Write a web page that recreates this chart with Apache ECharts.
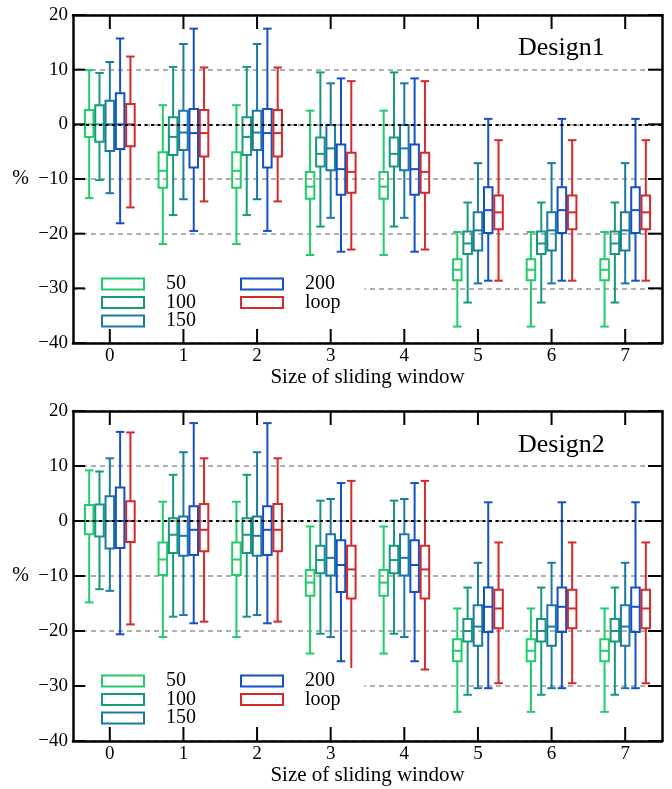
<!DOCTYPE html>
<html>
<head>
<meta charset="utf-8">
<script src="https://cdn.jsdelivr.net/npm/echarts@6/dist/echarts.min.js"></script>
<style>
  html, body { margin: 0; padding: 0; background: #fff; }
  #chart { width: 672px; height: 789px; }
</style>
</head>
<body>
<div id="chart"></div>
<script>
const categories = ['0', '1', '2', '3', '4', '5', '6', '7'];
const yTicks = [20, 10, 0, -10, -20, -30, -40];
const seriesNames = ['50', '100', '150', '200', 'loop'];
const colors = ['#22cc6a', '#17997c', '#1a7aa3', '#1450c8', '#d42a2a'];
const panelTitles = ['Design1', 'Design2'];

// each row: [min, q1, median, q3, max]
const design1_50 = [
  [-13.5, -2.3, 0, 2.6, 9.9],
  [-21.9, -11.6, -8.5, -5.1, 3.5],
  [-21.9, -11.6, -8.5, -5.1, 3.5],
  [-23.9, -13.6, -11.4, -8.7, 2.5],
  [-23.9, -13.6, -11.4, -8.7, 2.5],
  [-37.0, -28.5, -26.6, -24.7, -19.7],
  [-37.0, -28.5, -26.6, -24.7, -19.7],
  [-37.0, -28.5, -26.6, -24.7, -19.7]
];
const design1_100 = [
  [-10.2, -3.2, 0, 3.5, 9.4],
  [-16.6, -5.6, -2.3, 1.3, 10.5],
  [-16.6, -5.6, -2.3, 1.3, 10.5],
  [-18.7, -7.7, -5.4, -2.4, 9.5],
  [-18.7, -7.7, -5.4, -2.4, 9.5],
  [-32.6, -23.7, -21.8, -19.6, -14.3],
  [-32.6, -23.7, -21.8, -19.6, -14.3],
  [-32.6, -23.7, -21.8, -19.6, -14.3]
];
const design1_150 = [
  [-12.6, -4.9, 0, 4.3, 11.4],
  [-13.7, -4.7, -1.5, 2.5, 14.7],
  [-13.7, -4.7, -1.5, 2.5, 14.7],
  [-17.1, -8.4, -4.4, -0.1, 7.5],
  [-17.1, -8.4, -4.4, -0.1, 7.5],
  [-29.1, -23.1, -19.4, -16.1, -7.1],
  [-29.1, -23.1, -19.4, -16.1, -7.1],
  [-29.1, -23.1, -19.4, -16.1, -7.1]
];
const design1_200 = [
  [-18.1, -4.5, 0, 5.7, 15.7],
  [-19.5, -7.9, -1.6, 2.8, 17.5],
  [-19.5, -7.9, -1.6, 2.8, 17.5],
  [-23.3, -12.9, -8.2, -3.7, 8.4],
  [-23.3, -12.9, -8.2, -3.7, 8.4],
  [-28.6, -19.9, -15.7, -11.5, 1.0],
  [-28.6, -19.9, -15.7, -11.5, 1.0],
  [-28.6, -19.9, -15.7, -11.5, 1.0]
];
const design1_loop = [
  [-15.2, -4.0, 0, 3.7, 12.4],
  [-14.1, -5.9, -1.6, 2.6, 10.4],
  [-14.1, -5.9, -1.6, 2.6, 10.4],
  [-22.9, -12.5, -8.7, -5.2, 7.9],
  [-22.9, -12.5, -8.7, -5.2, 7.9],
  [-28.6, -19.2, -16.1, -13.0, -2.9],
  [-28.6, -19.2, -16.1, -13.0, -2.9],
  [-28.6, -19.2, -16.1, -13.0, -2.9]
];

const design2_50 = [
  [-14.8, -2.4, 0, 2.9, 9.2],
  [-21.1, -9.8, -7.0, -3.9, 3.5],
  [-21.1, -9.8, -7.0, -3.9, 3.5],
  [-24.1, -13.6, -11.2, -8.9, -1.0],
  [-24.1, -13.6, -11.2, -8.9, -1.0],
  [-34.7, -25.5, -23.6, -21.5, -15.9],
  [-34.7, -25.5, -23.6, -21.5, -15.9],
  [-34.7, -25.5, -23.6, -21.5, -15.9]
];
const design2_100 = [
  [-12.4, -2.8, 0, 3.0, 9.0],
  [-17.4, -5.8, -2.5, 0.5, 8.4],
  [-17.4, -5.8, -2.5, 0.5, 8.4],
  [-20.5, -9.5, -7.1, -4.5, 3.7],
  [-20.5, -9.5, -7.1, -4.5, 3.7],
  [-31.6, -21.9, -20.0, -17.8, -12.1],
  [-31.6, -21.9, -20.0, -17.8, -12.1],
  [-31.6, -21.9, -20.0, -17.8, -12.1]
];
const design2_150 = [
  [-12.7, -5.0, 0, 4.5, 11.4],
  [-17.1, -6.3, -2.7, 0.8, 12.5],
  [-17.1, -6.3, -2.7, 0.8, 12.5],
  [-21.1, -9.9, -6.7, -2.4, 4.0],
  [-21.1, -9.9, -6.7, -2.4, 4.0],
  [-30.4, -22.7, -19.2, -15.3, -7.6],
  [-30.4, -22.7, -19.2, -15.3, -7.6],
  [-30.4, -22.7, -19.2, -15.3, -7.6]
];
const design2_200 = [
  [-20.6, -4.9, 0, 6.1, 16.2],
  [-18.6, -6.2, -1.6, 2.7, 17.8],
  [-18.6, -6.2, -1.6, 2.7, 17.8],
  [-25.5, -12.9, -8.0, -3.5, 6.9],
  [-25.5, -12.9, -8.0, -3.5, 6.9],
  [-30.4, -20.2, -15.6, -12.1, 3.4],
  [-30.4, -20.2, -15.6, -12.1, 3.4],
  [-30.4, -20.2, -15.6, -12.1, 3.4]
];
const design2_loop = [
  [-18.8, -3.8, 0, 3.6, 16.1],
  [-18.3, -5.5, -1.6, 3.1, 11.4],
  [-18.3, -5.5, -1.6, 3.1, 11.4],
  [-27.0, -14.1, -8.8, -4.5, 7.3],
  [-27.0, -14.1, -8.8, -4.5, 7.3],
  [-29.5, -19.5, -15.9, -12.5, -3.9],
  [-29.5, -19.5, -15.9, -12.5, -3.9],
  [-29.5, -19.5, -15.9, -12.5, -3.9]
];

const panels = [
  [design1_50, design1_100, design1_150, design1_200, design1_loop],
  [design2_50, design2_100, design2_150, design2_200, design2_loop]
];

const FONT = 'Liberation Serif';
const grids = [
  { left: 73, right: 10, top: 15, height: 328 },
  { left: 73, right: 10, top: 411, height: 330 }
];

function yLabel(v) {
  return v < 0 ? '\u2212' + Math.abs(v) : String(v);
}

// box drawn through the axes; k = series slot inside a category
function boxItem(k) {
  return function (params, api) {
    const cat = api.value(0);
    const band = api.size([1, 0])[0];
    const x = api.coord([cat, 0])[0] + (k - 2) * band * 0.14;
    const hw = band * 0.058;
    const y = [1, 2, 3, 4, 5].map(i => api.coord([cat, api.value(i)])[1]);
    const st = { stroke: colors[k], lineWidth: 2, fill: 'transparent' };
    return {
      type: 'group',
      children: [
        { type: 'rect', shape: { x: x - hw, y: y[3], width: 2 * hw, height: y[1] - y[3] }, style: st },
        { type: 'line', shape: { x1: x - hw, y1: y[2], x2: x + hw, y2: y[2] }, style: st },
        { type: 'line', shape: { x1: x, y1: y[3], x2: x, y2: y[4] }, style: st },
        { type: 'line', shape: { x1: x, y1: y[1], x2: x, y2: y[0] }, style: st },
        { type: 'line', shape: { x1: x - hw, y1: y[4], x2: x + hw, y2: y[4] }, style: st },
        { type: 'line', shape: { x1: x - hw, y1: y[0], x2: x + hw, y2: y[0] }, style: st }
      ]
    };
  };
}

// inward frame ticks (axisTick.inside is not honoured here, so draw them on the frame)
const tickStyle = { stroke: '#000', lineWidth: 2 };
function xTickItem(params, api) {
  const cs = params.coordSys;
  const x = api.coord([api.value(0), 0])[0];
  const b = cs.y + cs.height;
  return {
    type: 'group',
    children: [
      { type: 'line', shape: { x1: x, y1: b, x2: x, y2: b - 14 }, style: tickStyle },
      { type: 'line', shape: { x1: x, y1: cs.y, x2: x, y2: cs.y + 14 }, style: tickStyle }
    ]
  };
}
function yTickItem(params, api) {
  const cs = params.coordSys;
  const y = api.coord([0, api.value(1)])[1];
  const r = cs.x + cs.width;
  return {
    type: 'group',
    children: [
      { type: 'line', shape: { x1: cs.x, y1: y, x2: cs.x + 12, y2: y }, style: tickStyle },
      { type: 'line', shape: { x1: r, y1: y, x2: r - 14, y2: y }, style: tickStyle }
    ]
  };
}

let xAxis = [], yAxis = [], series = [], legend = [], title = [];

grids.forEach(function (g, p) {
  xAxis.push({
    type: 'category', gridIndex: p, data: categories, position: 'bottom',
    axisLine: { show: true, onZero: false, lineStyle: { color: '#000', width: 2.5 } },
    axisTick: { show: false },
    axisLabel: { color: '#000', fontFamily: FONT, fontSize: 19, margin: 4 },
    name: 'Size of sliding window', nameLocation: 'middle', nameGap: 24,
    nameTextStyle: { color: '#000', fontFamily: FONT, fontSize: 21 }
  });
  xAxis.push({
    type: 'category', gridIndex: p, data: categories, position: 'top',
    axisLine: { show: true, onZero: false, lineStyle: { color: '#000', width: 2.5 } },
    axisTick: { show: false },
    axisLabel: { show: false }
  });
  yAxis.push({
    type: 'value', gridIndex: p, min: -40, max: 20, interval: 10, position: 'left',
    axisLine: { show: true, onZero: false, lineStyle: { color: '#000', width: 2.5 } },
    axisTick: { show: false },
    axisLabel: { color: '#000', fontFamily: FONT, fontSize: 19, margin: 5, formatter: yLabel },
    splitLine: { show: true, lineStyle: { color: '#b0b0b0', width: 2, type: [5, 4] } },
    name: '%', nameLocation: 'middle', nameRotate: 0, nameGap: 44,
    nameTextStyle: { color: '#000', fontFamily: FONT, fontSize: 20 }
  });
  yAxis.push({
    type: 'value', gridIndex: p, min: -40, max: 20, interval: 10, position: 'right',
    axisLine: { show: true, onZero: false, lineStyle: { color: '#000', width: 2.5 } },
    axisTick: { show: false },
    axisLabel: { show: false },
    splitLine: { show: false }
  });

  panels[p].forEach(function (rows, k) {
    series.push({
      type: 'custom',
      name: seriesNames[k],
      xAxisIndex: 2 * p,
      yAxisIndex: 2 * p,
      itemStyle: { color: colors[k] },
      encode: { x: 0, y: [1, 2, 3, 4, 5] },
      renderItem: boxItem(k),
      data: rows.map((r, i) => [i].concat(r)),
      z: 3,
      markLine: k === 0 ? {
        silent: true, symbol: 'none', label: { show: false },
        lineStyle: { color: '#000', width: 2, type: [3, 3.5] },
        data: [{ yAxis: 0 }]
      } : undefined
    });
  });

  series.push({
    type: 'custom', xAxisIndex: 2 * p, yAxisIndex: 2 * p, silent: true, z: 5,
    encode: { x: 0 }, renderItem: xTickItem,
    data: categories.map((c, i) => [i])
  });
  series.push({
    type: 'custom', xAxisIndex: 2 * p, yAxisIndex: 2 * p, silent: true, z: 5,
    encode: { x: 0, y: 1 }, renderItem: yTickItem,
    data: yTicks.map(v => [0, v])
  });

  const legTop = p === 0 ? 271 : 668;
  const textStyle = { color: '#000', fontFamily: FONT, fontSize: 20, lineHeight: 18, padding: [0, 0, 0, 17] };
  const legItem = n => ({
    name: n, icon: 'rect',
    itemStyle: { color: '#fff', borderColor: colors[seriesNames.indexOf(n)], borderWidth: 2 }
  });
  legend.push({
    data: ['50', '100', '150'].map(legItem), orient: 'vertical',
    left: 86, top: legTop, padding: [3, 45, 3, 15], backgroundColor: '#fff',
    itemWidth: 42, itemHeight: 11, itemGap: -1.5, selectedMode: false, textStyle: textStyle
  });
  legend.push({
    data: ['200', 'loop'].map(legItem), orient: 'vertical',
    left: 228, top: legTop, padding: [3, 24, 3, 12], backgroundColor: '#fff',
    itemWidth: 42, itemHeight: 11, itemGap: -1.5, selectedMode: false, textStyle: textStyle
  });

  title.push({
    text: panelTitles[p], left: 518, top: p === 0 ? 35 : 432, padding: 0,
    textStyle: { color: '#000', fontFamily: FONT, fontSize: 26, fontWeight: 'normal' }
  });
});

const chart = echarts.init(document.getElementById('chart'));
chart.setOption({
  animation: false,
  backgroundColor: '#fff',
  title: title,
  grid: grids,
  legend: legend,
  xAxis: xAxis,
  yAxis: yAxis,
  series: series
});
</script>
</body>
</html>
